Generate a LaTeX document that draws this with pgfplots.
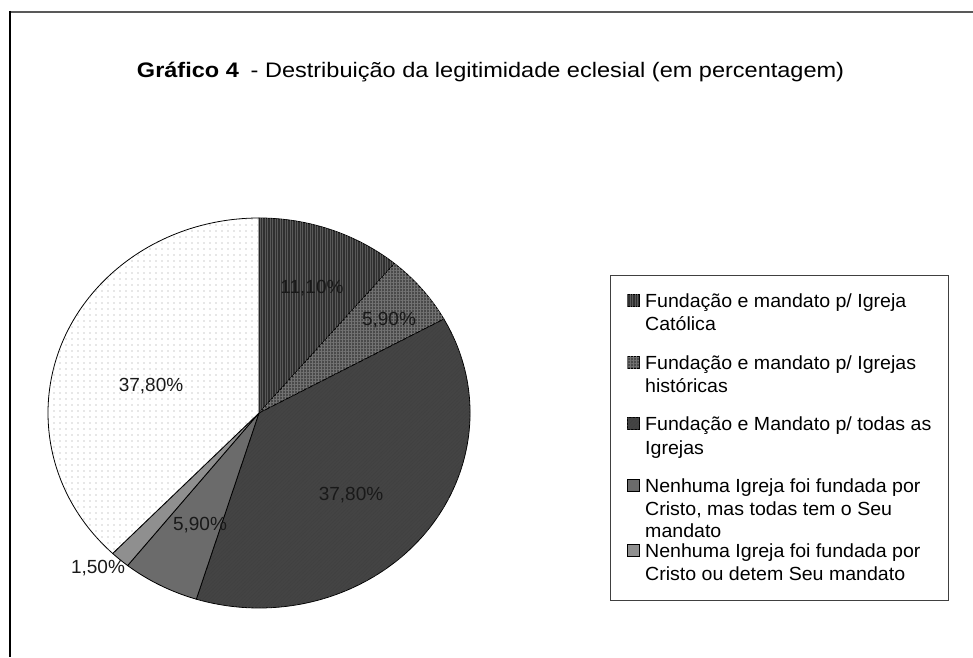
\documentclass[border=0pt]{standalone}
\usepackage{fontspec}
\setmainfont{Liberation Sans}
\usepackage{pgfplots}
\pgfplotsset{compat=1.18}
\usepackage{pgfplotstable}
\usetikzlibrary{patterns.meta}

\definecolor{s0}{HTML}{303030}
\definecolor{s1}{HTML}{4A4A4A}
\definecolor{s2}{HTML}{444444}
\definecolor{s3}{HTML}{6B6B6B}
\definecolor{s4}{HTML}{8F8F8F}
\definecolor{s5}{HTML}{FFFFFF}

\tikzset{
  sl0/.style={fill=s0, postaction={pattern={Lines[angle=90,distance=2.5pt,line width=0.7pt]}, pattern color=gray!70!black}},
  sl1/.style={fill=s1, postaction={pattern={Hatch[distance=3pt,line width=0.4pt]}, pattern color=gray!90!black}},
  sl2/.style={fill=s2, postaction={pattern={Lines[angle=45,distance=2.5pt,line width=0.5pt]}, pattern color=gray!50!black}},
  sl3/.style={fill=s3},
  sl4/.style={fill=s4},
  sl5/.style={fill=s5, postaction={pattern={Dots[distance=6pt,radius=0.6pt]}, pattern color=gray!80}},
}

% share (%), label position in pixels
\pgfplotstableread{
val   lx   ly
11.10 312  369
5.90  389  337
37.80 351  162
5.90  200  132
1.50  98   89
37.80 151  271
}\piedata

\begin{document}
\begin{tikzpicture}
% start/end angles, clockwise from the top
\def\cum{0}
\pgfplotsforeachungrouped \i in {0,...,5}{%
  \pgfplotstablegetelem{\i}{val}\of\piedata \let\v=\pgfplotsretval
  \pgfmathsetmacro\sa{90-3.6*\cum}%
  \pgfmathsetmacro\cum{\cum+\v}%
  \pgfmathsetmacro\ea{90-3.6*\cum}%
  \expandafter\xdef\csname v\i\endcsname{\v}%
  \expandafter\xdef\csname sa\i\endcsname{\sa}%
  \expandafter\xdef\csname ea\i\endcsname{\ea}%
  \pgfplotstablegetelem{\i}{lx}\of\piedata
  \expandafter\xdef\csname lx\i\endcsname{\pgfplotsretval}%
  \pgfplotstablegetelem{\i}{ly}\of\piedata
  \expandafter\xdef\csname ly\i\endcsname{\pgfplotsretval}%
}
\begin{axis}[
  width=973pt, height=657pt, scale only axis,
  xmin=0, xmax=973, ymin=0, ymax=657,
  hide axis, clip=false,
]
% frame
\draw[gray!70!black, line width=2pt] (axis cs:9,645) -- (axis cs:973,645);
\draw[black, line width=2pt] (axis cs:10,646) -- (axis cs:10,0);

% title
\node[anchor=base west, xscale=1.12, font=\fontsize{21}{25}\selectfont]
  at (axis cs:133,579) {\textbf{Gráfico 4}\enspace - Destribuição da legitimidade eclesial (em percentagem)};

% slices
\pgfplotsinvokeforeach{0,...,5}{
  \draw[sl#1, line width=0.8pt] (axis cs:259,244) -- ++(\csname sa#1\endcsname:211pt and 195pt)
    arc[start angle=\csname sa#1\endcsname, end angle=\csname ea#1\endcsname, x radius=211pt, y radius=195pt] -- cycle;
}
\pgfplotsinvokeforeach{0,...,5}{
  \node[font=\fontsize{19}{22}\selectfont, text=black!90]
    at (axis cs:\csname lx#1\endcsname,\csname ly#1\endcsname)
    {\pgfmathprintnumber[fixed,fixed zerofill,precision=2,use comma,assume math mode=true]{\csname v#1\endcsname}\%};
}

% legend
\draw[gray!50!black, line width=1pt] (axis cs:610,382) rectangle (axis cs:948,57);
\draw[sl0, line width=0.6pt] (axis cs:627,351) rectangle (axis cs:639,363);
\draw[sl1, line width=0.6pt] (axis cs:627,289) rectangle (axis cs:639,301);
\draw[sl2, line width=0.6pt] (axis cs:627,228) rectangle (axis cs:639,240);
\draw[sl3, line width=0.6pt] (axis cs:627,166) rectangle (axis cs:639,178);
\draw[sl4, line width=0.6pt] (axis cs:627,101) rectangle (axis cs:639,113);
\tikzset{lg/.style={anchor=base west, font=\fontsize{19}{22}\selectfont, xscale=1.03, inner sep=0pt}}
\node[lg] at (axis cs:645,350) {Fundação e mandato p/ Igreja};
\node[lg] at (axis cs:645,327) {Católica};
\node[lg] at (axis cs:645,288) {Fundação e mandato p/ Igrejas};
\node[lg] at (axis cs:645,265) {históricas};
\node[lg] at (axis cs:645,227) {Fundação e Mandato p/ todas as};
\node[lg] at (axis cs:645,203) {Igrejas};
\node[lg] at (axis cs:645,165) {Nenhuma Igreja foi fundada por};
\node[lg] at (axis cs:645,142) {Cristo, mas todas tem o Seu};
\node[lg] at (axis cs:645,120) {mandato};
\node[lg] at (axis cs:645,100) {Nenhuma Igreja foi fundada por};
\node[lg] at (axis cs:645,77) {Cristo ou detem Seu mandato};
\end{axis}
\pgfresetboundingbox
\path (current axis.south west) rectangle (current axis.north east);
\end{tikzpicture}
\end{document}
